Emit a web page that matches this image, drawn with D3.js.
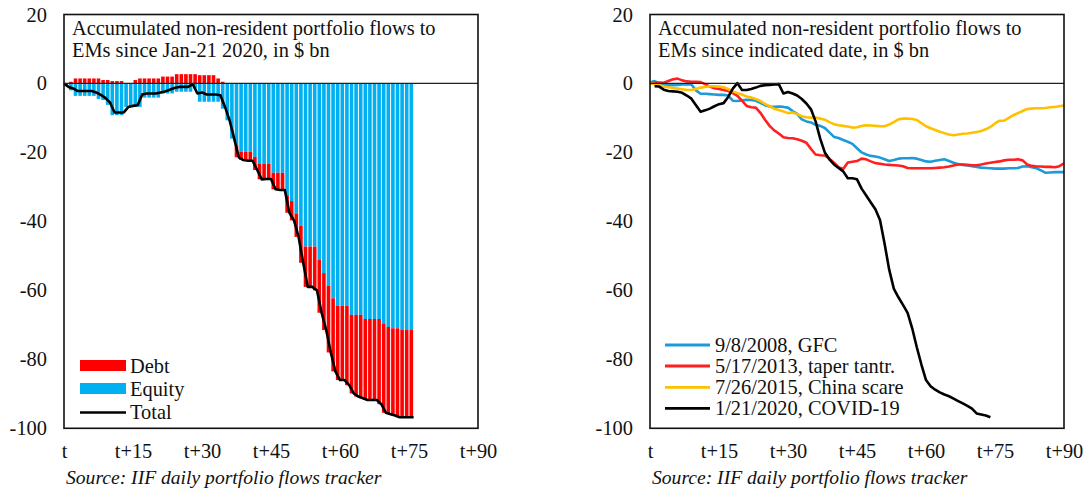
<!DOCTYPE html>
<html><head><meta charset="utf-8">
<script src="https://cdn.jsdelivr.net/npm/d3@7"></script>
<style>
html,body{margin:0;padding:0;background:#fff;}
svg text{font-family:"Liberation Serif","DejaVu Serif",serif;fill:#111;}
</style></head>
<body><svg id="c" width="1086" height="492"></svg>
<script>
// ---------- DATA ----------
const xTickValues = [0, 15, 30, 45, 60, 75, 90];
const xTickLabels = ["t", "t+15", "t+30", "t+45", "t+60", "t+75", "t+90"];
const yTickValues = [20, 0, -20, -40, -60, -80, -100];

// Left chart: accumulated flows since Jan-21 2020 ($ bn), bars for days 1..76
const covidEquity = [-0.8,-2.0,-3.6,-3.6,-3.6,-3.6,-3.6,-4.5,-4.8,-6.2,-9.2,-9.2,-9.2,-6.8,-6.8,-6.8,-6.8,-4.1,-4.1,-4.1,-4.1,-2.9,-2.9,-2.9,-2.4,-2.4,-2.4,-2.4,-1.5,-5.3,-5.3,-5.3,-5.3,-5.3,-7.3,-10.7,-16.0,-17.9,-19.8,-19.8,-19.8,-21.3,-23.2,-23.2,-23.2,-25.9,-25.9,-25.9,-32.4,-34.1,-37.7,-41.3,-47.3,-47.3,-47.3,-51.2,-55.0,-58.6,-62.3,-64.5,-64.5,-64.5,-67.1,-67.1,-67.1,-68.3,-68.3,-68.3,-68.3,-69.6,-70.6,-71.0,-71.0,-71.5,-71.5,-71.5];
const covidDebt = [0,0.5,1.45,1.45,1.45,1.45,1.45,1.45,1.0,1.0,0.7,0.7,0.7,0.1,0,1.0,1.45,1.45,1.45,1.45,1.45,2.0,2.0,2.0,2.7,2.7,2.7,2.7,2.7,2.4,2.4,2.4,2.4,1.45,0.5,0,0,-3.5,-2.4,-2.6,-2.6,-3.8,-4.6,-4.5,-4.5,-4.8,-5.0,-5.0,-5.1,-5.6,-6.8,-10.7,-11.7,-11.7,-12.7,-15.3,-16.5,-19.4,-21.2,-21.5,-21.5,-23.0,-22.8,-23.7,-24.2,-23.5,-23.5,-23.5,-24.7,-25.9,-25.3,-25.3,-25.8,-25.3,-25.3,-25.3];
// Total line, days 0..76
const covidTotal = [0,-1.0,-1.45,-2.2,-2.2,-2.2,-2.2,-2.6,-3.3,-4.2,-5.5,-8.4,-8.4,-8.4,-6.8,-6.5,-6.3,-3.2,-2.9,-2.9,-2.9,-2.6,-2.3,-1.8,-1.3,-1.0,-1.0,-1.0,-0.2,-2.9,-2.6,-3.2,-3.2,-3.2,-3.4,-6.8,-10.7,-16.0,-21.4,-22.2,-22.4,-22.4,-25.1,-27.8,-27.7,-27.7,-30.7,-30.9,-30.9,-37.5,-39.7,-44.5,-52.0,-59.0,-59.0,-60.0,-66.5,-71.5,-78.0,-83.5,-86.0,-86.0,-87.5,-89.9,-90.8,-91.3,-91.8,-91.8,-91.8,-93.0,-95.5,-95.9,-96.3,-96.8,-96.8,-96.8,-96.8];

// Right chart: accumulated flows since indicated date ($ bn), days 0..90
const gfc = [0.3,0.7,0,-0.3,-0.5,-0.5,-0.4,-0.3,-0.2,-0.3,-2.0,-3.0,-3.0,-3.1,-3.2,-3.3,-3.3,-3.5,-5.0,-5.1,-4.9,-4.7,-4.8,-5.0,-5.6,-6.3,-6.7,-6.8,-6.7,-6.8,-7.0,-8.0,-8.8,-10.4,-11.0,-11.3,-12.0,-12.3,-12.9,-14.2,-15.5,-15.8,-16.4,-16.9,-17.5,-18.8,-20.0,-20.6,-21.0,-21.2,-21.5,-22.0,-22.5,-22.2,-21.8,-21.7,-21.7,-21.6,-21.8,-22.2,-22.6,-22.7,-22.4,-22.2,-22.0,-22.5,-23.0,-23.4,-23.6,-23.8,-24.0,-24.2,-24.4,-24.5,-24.6,-24.7,-24.7,-24.7,-24.6,-24.6,-24.5,-24.1,-24.0,-24.3,-24.6,-25.2,-25.9,-25.8,-25.7,-25.7,-25.7];
const taper = [0,0.2,0.3,0.2,0.7,1.2,1.4,0.9,0.6,0.5,0.5,0.4,-0.2,-0.9,-1.4,-1.6,-1.9,-2.2,-2.8,-3.6,-5.0,-6.5,-6.9,-7.0,-8.5,-10.5,-12.3,-13.6,-14.5,-15.6,-15.8,-15.9,-16.2,-16.6,-17.2,-19.0,-20.6,-20.8,-20.9,-21.8,-23.0,-24.3,-24.8,-22.9,-22.7,-22.5,-21.8,-22.0,-22.6,-23.1,-23.3,-23.5,-23.6,-23.7,-23.8,-24.0,-24.5,-24.6,-24.6,-24.6,-24.6,-24.6,-24.5,-24.4,-24.3,-24.1,-23.8,-23.5,-23.5,-23.6,-23.7,-23.7,-23.5,-23.2,-23.0,-22.8,-22.6,-22.3,-22.1,-22.1,-22.0,-22.3,-23.5,-23.9,-24.1,-24.1,-24.2,-24.2,-24.3,-24.0,-23.2];
const china = [0,-0.2,-0.5,-0.9,-1.1,-1.3,-1.5,-1.7,-1.9,-1.9,-1.6,-1.2,-1.0,-0.8,-0.8,-0.9,-1.1,-1.6,-2.3,-2.8,-3.2,-3.8,-4.1,-4.5,-5.1,-5.9,-6.6,-7.3,-7.7,-8.1,-8.6,-8.4,-8.9,-9.5,-9.8,-9.9,-9.9,-10.2,-10.5,-11.2,-11.8,-12.1,-12.3,-12.5,-12.8,-12.7,-12.3,-12.1,-12.2,-12.3,-12.4,-12.4,-11.9,-11.2,-10.4,-10.2,-10.2,-10.3,-10.6,-11.5,-12.4,-13.0,-13.5,-14.0,-14.4,-14.8,-15.0,-14.8,-14.6,-14.5,-14.3,-14.1,-13.8,-13.3,-12.6,-11.6,-10.8,-10.8,-10.0,-9.2,-8.6,-8.0,-7.4,-7.3,-7.2,-7.2,-7.1,-6.9,-6.8,-6.6,-6.4];
// COVID series in the right chart, days 1..74
const covid = [-0.8,-0.9,-1.8,-2.2,-2.3,-2.4,-2.7,-3.5,-4.4,-6.3,-8.2,-7.8,-7.3,-6.6,-6.0,-5.7,-3.9,-1.5,0.1,-1.9,-1.9,-1.6,-1.2,-0.7,-0.5,-0.4,-0.3,-0.2,-2.9,-2.5,-2.9,-3.5,-4.5,-5.8,-7.5,-11.0,-16.0,-20.0,-22.0,-23.5,-24.5,-25.5,-27.5,-27.5,-27.8,-30.5,-32.5,-34.5,-36.5,-39.6,-46.5,-54.0,-59.5,-62.0,-64.2,-66.5,-71.0,-76.5,-81.5,-86.0,-87.8,-88.8,-89.6,-90.2,-90.7,-91.4,-92.1,-92.8,-93.5,-94.3,-95.7,-96.0,-96.3,-96.8];

const leftTitle = ["Accumulated non-resident portfolio flows to", "EMs since Jan-21 2020, in $ bn"];
const rightTitle = ["Accumulated non-resident portfolio flows to", "EMs since indicated date, in $ bn"];
const sourceText = "Source: IIF daily portfolio flows tracker";
const barNames = ["Debt", "Equity", "Total"];
const lineNames = ["9/8/2008, GFC", "5/17/2013, taper tantr.", "7/26/2015, China scare", "1/21/2020, COVID-19"];

// ---------- DRAW ----------
const svg = d3.select("#c");
const COL = {debt:"#ff0000", equity:"#00b0f0", gfc:"#1c9ad9", taper:"#ff1f1f", china:"#ffc000", covid:"#000"};
const plotTop = 14.5, plotBottom = 428.3, plotW = 414;
const FS = "20.4px";

function frame(left) {
  const g = svg.append("g");
  const x = d3.scaleLinear().domain([0, 90]).range([left, left + plotW]);
  const y = d3.scaleLinear().domain([-100, 20]).range([plotBottom, plotTop]);
  return {g, x, y};
}
function decorate(c, title) {
  const {g, x, y} = c;
  const ya = g.append("g").attr("transform", `translate(${x.range()[0]},0)`)
    .call(d3.axisLeft(y).tickValues(yTickValues).tickSize(0).tickPadding(17).tickFormat(d => String(d)));
  ya.select(".domain").remove();
  ya.selectAll("text").style("font-size", FS).attr("font-family", null).attr("fill", null);
  const xa = g.append("g").attr("transform", `translate(0,${plotBottom})`)
    .call(d3.axisBottom(x).tickValues(xTickValues).tickSize(0).tickPadding(15)
      .tickFormat((d, i) => xTickLabels[i]));
  xa.select(".domain").remove();
  xa.selectAll("text").style("font-size", FS).attr("font-family", null).attr("fill", null);
  g.append("line").attr("x1", x.range()[0]).attr("x2", x.range()[1])
    .attr("y1", y(0)).attr("y2", y(0)).attr("stroke", "#222").attr("stroke-width", 1.3);
  g.append("rect").attr("x", x.range()[0]).attr("y", plotTop).attr("width", plotW).attr("height", plotBottom - plotTop)
    .attr("fill", "none").attr("stroke", "#111").attr("stroke-width", 1.6);
  const t = g.append("text").style("font-size", FS);
  title.forEach((s, i) => t.append("tspan").attr("x", x.range()[0] + 8).attr("y", 35 + i * 21.5).text(s));
  g.append("text").attr("x", x.range()[0] + 2).attr("y", 484).style("font-size", "19.6px")
    .style("font-style", "italic").text(sourceText);
}

// Left chart
const L = frame(64);
{
  const {g, x, y} = L;
  const step = x(1) - x(0);
  const days = d3.range(1, covidEquity.length + 1);
  const bars = g.append("g");
  days.forEach((d, i) => {
    const e = covidEquity[i], db = covidDebt[i];
    const bx = x(d - 1) + 0.5, bw = step - 1;
    bars.append("rect").attr("x", bx).attr("width", bw)
      .attr("y", y(Math.max(0, e))).attr("height", Math.abs(y(e) - y(0))).attr("fill", COL.equity);
    let y0, y1;
    if (db >= 0) { y0 = Math.max(0, e); y1 = y0 + db; }
    else { y0 = Math.min(0, e); y1 = y0 + db; }
    bars.append("rect").attr("x", bx).attr("width", bw)
      .attr("y", y(Math.max(y0, y1))).attr("height", Math.abs(y(y1) - y(y0))).attr("fill", COL.debt);
  });
  const line = d3.line().x((d, i) => x(i)).y(d => y(d));
  g.append("path").datum(covidTotal).attr("d", line).attr("fill", "none")
    .attr("stroke", "#000").attr("stroke-width", 2.6).attr("stroke-linejoin", "round");
  decorate(L, leftTitle);
  const lg = g.append("g");
  const lx = 80, lw = 46;
  lg.append("rect").attr("x", lx).attr("y", 360).attr("width", lw).attr("height", 11).attr("fill", COL.debt);
  lg.append("rect").attr("x", lx).attr("y", 383).attr("width", lw).attr("height", 11).attr("fill", COL.equity);
  lg.append("line").attr("x1", lx).attr("x2", lx + lw).attr("y1", 412.5).attr("y2", 412.5)
    .attr("stroke", "#000").attr("stroke-width", 2.6);
  [366, 389, 412].forEach((yy, i) => lg.append("text").attr("x", lx + 50).attr("y", yy)
    .attr("dy", "0.35em").style("font-size", FS).text(barNames[i]));
}

// Right chart
const R = frame(650);
{
  const {g, x, y} = R;
  const series = [
    {v: gfc, c: COL.gfc, off: 0},
    {v: taper, c: COL.taper, off: 0},
    {v: china, c: COL.china, off: 0},
    {v: covid, c: COL.covid, off: 1}
  ];
  series.forEach(s => {
    const line = d3.line().x((d, i) => x(i + s.off)).y(d => y(d));
    g.append("path").datum(s.v).attr("d", line).attr("fill", "none").attr("stroke", s.c)
      .attr("stroke-width", 2.6).attr("stroke-linejoin", "round");
  });
  decorate(R, rightTitle);
  const lx = 665, lw = 45;
  [345, 366, 387.3, 408.3].forEach((yy, i) => {
    g.append("line").attr("x1", lx).attr("x2", lx + lw).attr("y1", yy).attr("y2", yy)
      .attr("stroke", series[i].c).attr("stroke-width", 2.8);
    g.append("text").attr("x", lx + 50).attr("y", yy).attr("dy", "0.35em")
      .style("font-size", FS).text(lineNames[i]);
  });
}
</script></body></html>
